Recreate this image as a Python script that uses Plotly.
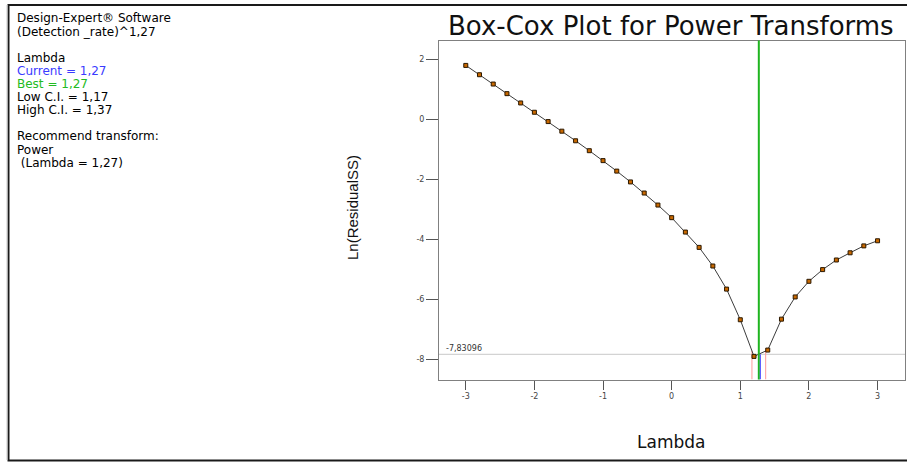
import numpy as np
import plotly.graph_objects as go

# Box-Cox search grid and the resulting ln(residual SS)
lambdas = [-3.0, -2.8, -2.6, -2.4, -2.2, -2.0, -1.8, -1.6, -1.4, -1.2, -1.0,
           -0.8, -0.6, -0.4, -0.2, 0.0, 0.2, 0.4, 0.6, 0.8, 1.0,
           1.2, 1.4, 1.6, 1.8, 2.0, 2.2, 2.4, 2.6, 2.8, 3.0]
ln_residual_ss = [1.79, 1.48, 1.17, 0.85, 0.54, 0.23, -0.08, -0.40, -0.72, -1.05, -1.38,
                  -1.73, -2.09, -2.46, -2.86, -3.28, -3.76, -4.27, -4.89, -5.66, -6.68,
                  -7.90, -7.69, -6.66, -5.92, -5.40, -5.01, -4.69, -4.45, -4.22, -4.05]

current_lambda = 1.27
best_lambda = 1.27
low_ci = 1.17
high_ci = 1.37
min_ln_ss = -7.83096

x_ticks = [-3, -2, -1, 0, 1, 2, 3]
y_ticks = [2, 0, -2, -4, -6, -8]

info_lines = [
    ("Design-Expert® Software", "black"),
    ("(Detection _rate)^1,27", "black"),
    ("", "black"),
    ("Lambda", "black"),
    ("Current = 1,27", "#3b3bff"),
    ("Best = 1,27", "#22bb22"),
    ("Low C.I. = 1,17", "black"),
    ("High C.I. = 1,37", "black"),
    ("", "black"),
    ("Recommend transform:", "black"),
    ("Power", "black"),
    ("\u00a0(Lambda = 1,27)", "black"),
]

W, H = 907, 462
FONT = "DejaVu Sans, Arial, sans-serif"

# plot-area box in pixels
PL, PR, PT, PB = 439, 905, 40.5, 379.5
X_RANGE = [-3.39, 3.40]
Y_RANGE = [-8.67, 2.62]


def fx(px):
    return px / W


def fy(py):
    return 1 - py / H


fig = go.Figure()

# minimum ln(SS) reference line
fig.add_trace(go.Scatter(x=X_RANGE, y=[min_ln_ss, min_ln_ss], mode="lines",
                         line=dict(color="#c8c8c8", width=1), hoverinfo="skip",
                         showlegend=False))

# confidence-interval markers, drawn up to the curve
ci_top = np.interp([low_ci, high_ci], lambdas, ln_residual_ss)
for lam_ci, top in zip([low_ci, high_ci], ci_top):
    fig.add_trace(go.Scatter(x=[lam_ci, lam_ci], y=[Y_RANGE[0], top], mode="lines",
                             line=dict(color="#ff9a9a", width=1), hoverinfo="skip",
                             showlegend=False))

# the Box-Cox curve
fig.add_trace(go.Scatter(x=lambdas, y=ln_residual_ss, mode="lines+markers",
                         line=dict(color="#3c3c3c", width=1),
                         marker=dict(symbol="square", size=4, color="#c86800",
                                     line=dict(color="#2a1800", width=1)),
                         showlegend=False))

shapes = [
    # best lambda (full height)
    dict(type="line", xref="x", yref="paper", x0=best_lambda, x1=best_lambda,
         y0=fy(PB), y1=fy(PT), line=dict(color="#1fb51f", width=2)),
    # current lambda, below the minimum
    dict(type="line", xref="x", yref="y", xsizemode="pixel", xanchor=current_lambda,
         x0=1.5, x1=1.5, y0=Y_RANGE[0], y1=min_ln_ss,
         line=dict(color="#3b3bff", width=1)),
    # outer frame
    dict(type="rect", xref="paper", yref="paper", x0=fx(8.5), x1=fx(W + 10),
         y0=fy(460.5), y1=fy(5), line=dict(color="#1a1a1a", width=2)),
    dict(type="line", xref="paper", yref="paper", x0=fx(7), x1=fx(7),
         y0=fy(460), y1=fy(5), line=dict(color="#c8c8c8", width=1)),
]

annotations = []
for i, (txt, col) in enumerate(info_lines):
    if not txt:
        continue
    annotations.append(dict(text=txt, xref="paper", yref="paper", x=fx(16),
                            y=fy(18.5 + 13.1 * i), xanchor="left", yanchor="middle",
                            showarrow=False, borderpad=0,
                            font=dict(family=FONT, size=12, color=col)))

annotations += [
    dict(text="Box-Cox Plot for Power Transforms", xref="paper", yref="paper",
         x=fx(671), y=fy(26), xanchor="center", yanchor="middle", showarrow=False,
         font=dict(family=FONT, size=26, color="#111111")),
    dict(text="Lambda", xref="paper", yref="paper", x=fx(671), y=fy(442),
         xanchor="center", yanchor="middle", showarrow=False,
         font=dict(family=FONT, size=17, color="#111111")),
    dict(text="Ln(ResidualSS)", xref="paper", yref="paper", x=fx(352), y=fy(208),
         xanchor="center", yanchor="middle", showarrow=False, textangle=-90,
         font=dict(family="Liberation Sans, Arial, sans-serif", size=15, color="#111111")),
    dict(text="-7,83096", xref="paper", yref="y", x=fx(444), y=min_ln_ss,
         xanchor="left", yanchor="bottom", showarrow=False, yshift=-1,
         font=dict(family=FONT, size=8, color="#333333")),
]

axis_common = dict(showgrid=False, zeroline=False, showline=True, mirror=True,
                   linecolor="#808080", linewidth=1, ticks="outside",
                   tickcolor="#555555", tickwidth=1,
                   tickfont=dict(family=FONT, size=8, color="#444444"))

fig.update_layout(
    width=W, height=H, autosize=False,
    margin=dict(l=0, r=0, t=0, b=0),
    paper_bgcolor="white", plot_bgcolor="white",
    xaxis=dict(domain=[fx(PL), fx(PR)], range=X_RANGE, tickvals=x_ticks,
               ticktext=[str(v) for v in x_ticks], ticklen=9, **axis_common),
    yaxis=dict(domain=[fy(PB), fy(PT)], range=Y_RANGE, tickvals=y_ticks,
               ticktext=[str(v) for v in y_ticks], ticklen=12, **axis_common),
    shapes=shapes,
    annotations=annotations,
    showlegend=False,
)

fig.write_html("out.html")
